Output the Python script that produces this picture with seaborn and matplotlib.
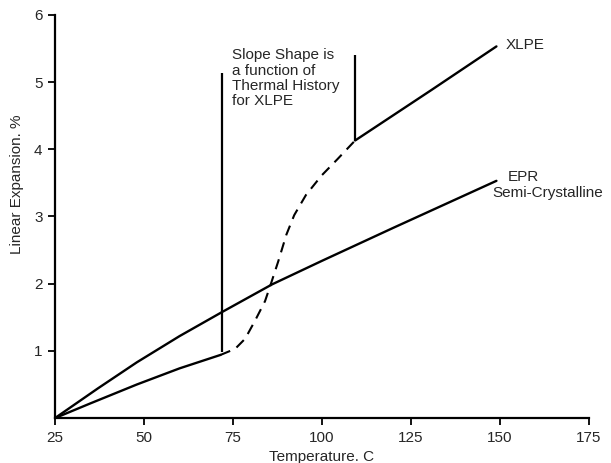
import numpy as np
import pandas as pd
import matplotlib
matplotlib.use("Agg")
import matplotlib.pyplot as plt
import seaborn as sns

# EPR semi-crystalline curve
epr_temp = [25, 37, 48, 60, 72, 86, 100, 120, 149]
epr_exp = [0.0, 0.44, 0.83, 1.22, 1.58, 1.99, 2.34, 2.83, 3.53]

# XLPE, solid part below the melt region
xlpe_low_temp = [25, 35, 48, 60, 71.5]
xlpe_low_exp = [0.0, 0.22, 0.50, 0.74, 0.94]

# XLPE, dashed transition (depends on thermal history)
xlpe_mid_temp = [71.5, 75.6, 78.4, 81.2, 84, 85.6, 87.7, 90, 92.2, 95.5, 99.9, 104.3, 109.3]
xlpe_mid_exp = [0.94, 1.03, 1.18, 1.45, 1.74, 1.99, 2.33, 2.73, 3.02, 3.32, 3.61, 3.85, 4.13]

# XLPE, solid part above the melt region
xlpe_high_temp = [109.3, 130.7, 149]
xlpe_high_exp = [4.13, 4.88, 5.53]

# leader lines of the note: x, y bottom, y top
lead_x = [71.8, 109.3]
lead_y0 = [0.98, 4.13]
lead_y1 = [5.13, 5.40]

x_ticks = [25, 50, 75, 100, 125, 150, 175]
y_ticks = [1, 2, 3, 4, 5, 6]

sns.set_style("ticks")
plt.rcParams["font.family"] = ["Liberation Sans", "DejaVu Sans"]

fig = plt.figure(figsize=(6.11, 4.63), dpi=100)
ax = fig.add_axes([0.09, 0.097, 0.874, 0.871])

lw = 1.7
df_epr = pd.DataFrame({"t": epr_temp, "e": epr_exp})
df_low = pd.DataFrame({"t": xlpe_low_temp, "e": xlpe_low_exp})
df_mid = pd.DataFrame({"t": xlpe_mid_temp, "e": xlpe_mid_exp})
df_high = pd.DataFrame({"t": xlpe_high_temp, "e": xlpe_high_exp})

sns.lineplot(data=df_epr, x="t", y="e", color="black", lw=lw, ax=ax, sort=False)
sns.lineplot(data=df_low, x="t", y="e", color="black", lw=lw, ax=ax, sort=False)
sns.lineplot(data=df_mid, x="t", y="e", color="black", lw=1.5, ax=ax, sort=False,
             linestyle=(0, (5, 3.5)))
sns.lineplot(data=df_high, x="t", y="e", color="black", lw=lw, ax=ax, sort=False)
ax.vlines(lead_x, lead_y0, lead_y1, color="black", lw=1.6)

fs = 11
ax.text(74.7, 5.50, "Slope Shape is\na function of\nThermal History\nfor XLPE",
        fontsize=fs, va="top", ha="left", linespacing=1.12)
ax.text(151.7, 5.55, "XLPE", fontsize=fs, va="center", ha="left")
ax.text(152.2, 3.59, "EPR", fontsize=fs, va="center", ha="left")
ax.text(147.8, 3.35, "Semi-Crystalline", fontsize=fs, va="center", ha="left")

ax.set_xlim(25, 175)
ax.set_ylim(0, 6)
ax.set_xticks(x_ticks)
ax.set_yticks(y_ticks)
ax.tick_params(labelsize=fs, length=5, width=1.3, color="black", direction="out", pad=4)
ax.set_xlabel("Temperature. C", fontsize=fs, labelpad=4)
ax.set_ylabel("Linear Expansion. %", fontsize=fs, labelpad=6)
ax.yaxis.set_label_coords(-0.058, 0.58)
for s in ["top", "right"]:
    ax.spines[s].set_visible(False)
for s in ["left", "bottom"]:
    ax.spines[s].set_linewidth(1.6)
    ax.spines[s].set_color("black")

fig.savefig("out.png", dpi=100)
